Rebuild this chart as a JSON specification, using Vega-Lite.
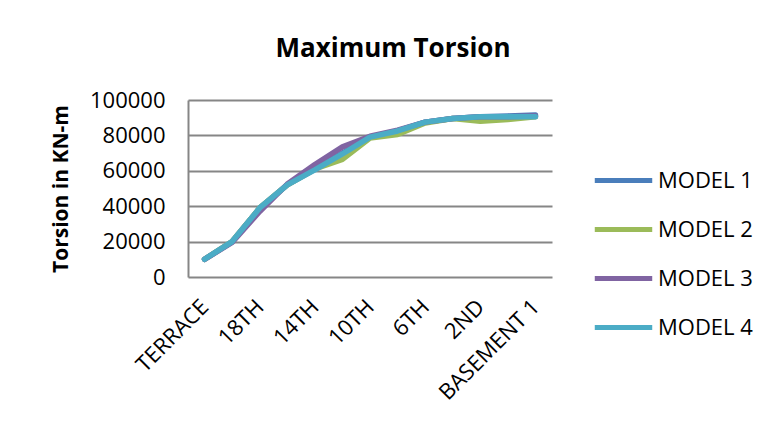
{
  "$schema": "https://vega.github.io/schema/vega-lite/v6.json",
  "autosize": {"type": "none"},
  "width": 364,
  "height": 177,
  "padding": {"left": 188, "top": 100, "right": 218, "bottom": 157},
  "background": "white",
  "title": {"text": "Maximum Torsion", "font": "Open Sans", "fontSize": 26, "fontWeight": "bold", "color": "#000000", "anchor": "middle", "dx": 23, "offset": 27},
  "data": {"values": [
    {"floor": "TERRACE", "model": "MODEL 1", "torsion": 10000},
    {"floor": "20TH", "model": "MODEL 1", "torsion": 20000},
    {"floor": "18TH", "model": "MODEL 1", "torsion": 39000},
    {"floor": "16TH", "model": "MODEL 1", "torsion": 52000},
    {"floor": "14TH", "model": "MODEL 1", "torsion": 61000},
    {"floor": "12TH", "model": "MODEL 1", "torsion": 70000},
    {"floor": "10TH", "model": "MODEL 1", "torsion": 79000},
    {"floor": "8TH", "model": "MODEL 1", "torsion": 82500},
    {"floor": "6TH", "model": "MODEL 1", "torsion": 87500},
    {"floor": "4TH", "model": "MODEL 1", "torsion": 89500},
    {"floor": "2ND", "model": "MODEL 1", "torsion": 90500},
    {"floor": "GROUND", "model": "MODEL 1", "torsion": 91000},
    {"floor": "BASEMENT 1", "model": "MODEL 1", "torsion": 91500},
    {"floor": "TERRACE", "model": "MODEL 2", "torsion": 10000},
    {"floor": "20TH", "model": "MODEL 2", "torsion": 20000},
    {"floor": "18TH", "model": "MODEL 2", "torsion": 39000},
    {"floor": "16TH", "model": "MODEL 2", "torsion": 52000},
    {"floor": "14TH", "model": "MODEL 2", "torsion": 61000},
    {"floor": "12TH", "model": "MODEL 2", "torsion": 66500},
    {"floor": "10TH", "model": "MODEL 2", "torsion": 78500},
    {"floor": "8TH", "model": "MODEL 2", "torsion": 80500},
    {"floor": "6TH", "model": "MODEL 2", "torsion": 87000},
    {"floor": "4TH", "model": "MODEL 2", "torsion": 89500},
    {"floor": "2ND", "model": "MODEL 2", "torsion": 88000},
    {"floor": "GROUND", "model": "MODEL 2", "torsion": 89000},
    {"floor": "BASEMENT 1", "model": "MODEL 2", "torsion": 90500},
    {"floor": "TERRACE", "model": "MODEL 3", "torsion": 10000},
    {"floor": "20TH", "model": "MODEL 3", "torsion": 19500},
    {"floor": "18TH", "model": "MODEL 3", "torsion": 37000},
    {"floor": "16TH", "model": "MODEL 3", "torsion": 52500},
    {"floor": "14TH", "model": "MODEL 3", "torsion": 63500},
    {"floor": "12TH", "model": "MODEL 3", "torsion": 73500},
    {"floor": "10TH", "model": "MODEL 3", "torsion": 79500},
    {"floor": "8TH", "model": "MODEL 3", "torsion": 83000},
    {"floor": "6TH", "model": "MODEL 3", "torsion": 87500},
    {"floor": "4TH", "model": "MODEL 3", "torsion": 89500},
    {"floor": "2ND", "model": "MODEL 3", "torsion": 90500},
    {"floor": "GROUND", "model": "MODEL 3", "torsion": 90500},
    {"floor": "BASEMENT 1", "model": "MODEL 3", "torsion": 91000},
    {"floor": "TERRACE", "model": "MODEL 4", "torsion": 10000},
    {"floor": "20TH", "model": "MODEL 4", "torsion": 20000},
    {"floor": "18TH", "model": "MODEL 4", "torsion": 39000},
    {"floor": "16TH", "model": "MODEL 4", "torsion": 52000},
    {"floor": "14TH", "model": "MODEL 4", "torsion": 60500},
    {"floor": "12TH", "model": "MODEL 4", "torsion": 69500},
    {"floor": "10TH", "model": "MODEL 4", "torsion": 79000},
    {"floor": "8TH", "model": "MODEL 4", "torsion": 82500},
    {"floor": "6TH", "model": "MODEL 4", "torsion": 87500},
    {"floor": "4TH", "model": "MODEL 4", "torsion": 89500},
    {"floor": "2ND", "model": "MODEL 4", "torsion": 90500},
    {"floor": "GROUND", "model": "MODEL 4", "torsion": 90500},
    {"floor": "BASEMENT 1", "model": "MODEL 4", "torsion": 90500}
  ]},
  "mark": {"type": "line", "strokeWidth": 5.5, "strokeCap": "round", "strokeJoin": "round"},
  "encoding": {
    "x": {
      "field": "floor", "type": "ordinal", "sort": null,
      "scale": {"type": "point", "padding": 0.6},
      "axis": {
        "title": null,
        "values": ["TERRACE", "18TH", "14TH", "10TH", "6TH", "2ND", "BASEMENT 1"],
        "labelAngle": -45, "labelAlign": "right", "labelBaseline": "middle",
        "labelFont": "Open Sans", "labelFontSize": 22, "labelColor": "#000000",
        "labelPadding": 26, "labelOverlap": false,
        "domain": false, "ticks": false, "grid": false
      }
    },
    "y": {
      "field": "torsion", "type": "quantitative",
      "scale": {"domain": [0, 100000], "nice": false},
      "axis": {
        "title": "Torsion in KN-m",
        "titleFont": "Open Sans", "titleFontSize": 21, "titleFontWeight": "bold", "titleColor": "#000000", "titlePadding": 18,
        "values": [0, 20000, 40000, 60000, 80000, 100000],
        "format": "d",
        "labelFont": "Open Sans", "labelFontSize": 22, "labelColor": "#000000", "labelPadding": 23,
        "labelOverlap": false,
        "domain": true, "domainColor": "#868686", "domainWidth": 2,
        "ticks": false,
        "grid": true, "gridColor": "#868686", "gridWidth": 2
      }
    },
    "color": {
      "field": "model", "type": "nominal",
      "scale": {"domain": ["MODEL 1", "MODEL 2", "MODEL 3", "MODEL 4"], "range": ["#4A7EBB", "#9BBB59", "#8064A2", "#4BACC6"]},
      "legend": {
        "title": null, "orient": "none", "legendX": 404, "legendY": 49,
        "symbolType": "stroke", "symbolSize": 3300, "symbolStrokeWidth": 5,
        "labelFont": "Open Sans", "labelFontSize": 22, "labelColor": "#000000",
        "rowPadding": 6, "labelOffset": 3
      }
    }
  },
  "config": {"view": {"stroke": null}}
}
